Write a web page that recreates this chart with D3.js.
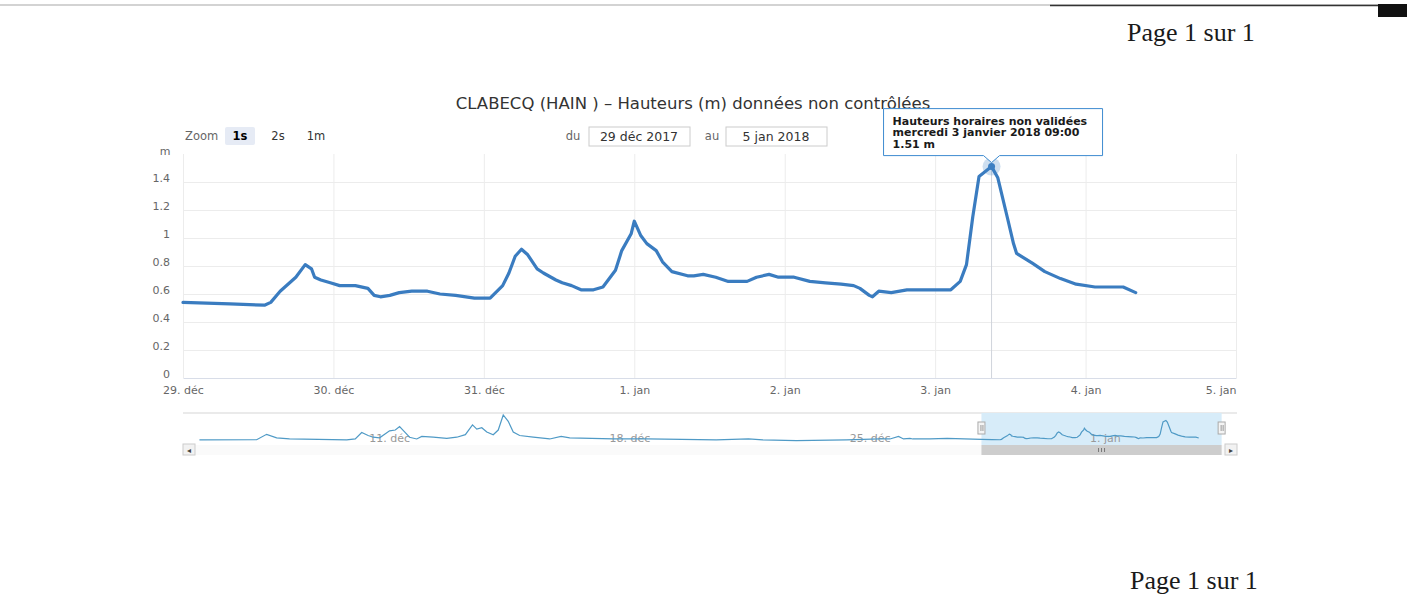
<!DOCTYPE html>
<html>
<head>
<meta charset="utf-8">
<script src="https://cdn.jsdelivr.net/npm/d3@7"></script>
<style>
  body { margin: 0; background: #fff; }
  svg text { font-family: "DejaVu Sans", Verdana, sans-serif; }
</style>
</head>
<body>
<svg id="chart" width="1407" height="596"></svg>
<script>
// heights (m), 29 déc -> 4 jan
const mainTimes = [
  "2017-12-29 00:00", "2017-12-29 07:30", "2017-12-29 13:00", "2017-12-29 14:00", "2017-12-29 15:30",
  "2017-12-29 18:00", "2017-12-29 19:30", "2017-12-29 20:30", "2017-12-29 21:00", "2017-12-29 22:00",
  "2017-12-29 23:30", "2017-12-30 01:00", "2017-12-30 03:30", "2017-12-30 05:30", "2017-12-30 06:30",
  "2017-12-30 07:30", "2017-12-30 09:00", "2017-12-30 10:30", "2017-12-30 12:30", "2017-12-30 15:00",
  "2017-12-30 17:00", "2017-12-30 19:30", "2017-12-30 22:30", "2017-12-31 01:00", "2017-12-31 03:00",
  "2017-12-31 04:00", "2017-12-31 05:00", "2017-12-31 06:00", "2017-12-31 07:00", "2017-12-31 08:30",
  "2017-12-31 09:30", "2017-12-31 11:30", "2017-12-31 12:30", "2017-12-31 14:00", "2017-12-31 15:30",
  "2017-12-31 17:30", "2017-12-31 19:00", "2017-12-31 21:00", "2017-12-31 22:00", "2017-12-31 23:30",
  "2018-01-01 00:00", "2018-01-01 01:00", "2018-01-01 02:00", "2018-01-01 03:30", "2018-01-01 04:30",
  "2018-01-01 06:00", "2018-01-01 08:30", "2018-01-01 09:30", "2018-01-01 11:00", "2018-01-01 13:00",
  "2018-01-01 15:00", "2018-01-01 18:00", "2018-01-01 19:30", "2018-01-01 21:30", "2018-01-01 23:00",
  "2018-01-02 01:30", "2018-01-02 04:00", "2018-01-02 06:30", "2018-01-02 09:00", "2018-01-02 11:00",
  "2018-01-02 12:00", "2018-01-02 13:30", "2018-01-02 14:00", "2018-01-02 15:00", "2018-01-02 17:00",
  "2018-01-02 19:30", "2018-01-02 23:00", "2018-01-03 02:30", "2018-01-03 04:00", "2018-01-03 05:00",
  "2018-01-03 06:00", "2018-01-03 07:00", "2018-01-03 09:00", "2018-01-03 10:00", "2018-01-03 11:30",
  "2018-01-03 12:30", "2018-01-03 13:00", "2018-01-03 15:30", "2018-01-03 17:30", "2018-01-03 20:00",
  "2018-01-03 22:30", "2018-01-04 01:30", "2018-01-04 04:00", "2018-01-04 06:00", "2018-01-04 08:00"
];
const mainHeights = [
  0.54, 0.53, 0.52, 0.54, 0.62,
  0.72, 0.81, 0.78, 0.72, 0.70,
  0.68, 0.66, 0.66, 0.64, 0.59,
  0.58, 0.59, 0.61, 0.62, 0.62,
  0.60, 0.59, 0.57, 0.57, 0.66,
  0.75, 0.87, 0.92, 0.88, 0.78,
  0.75, 0.70, 0.68, 0.66, 0.63,
  0.63, 0.65, 0.77, 0.91, 1.03,
  1.12, 1.02, 0.96, 0.91, 0.83,
  0.76, 0.73, 0.73, 0.74, 0.72,
  0.69, 0.69, 0.72, 0.74, 0.72,
  0.72, 0.69, 0.68, 0.67, 0.66,
  0.64, 0.59, 0.58, 0.62, 0.61,
  0.63, 0.63, 0.63, 0.69, 0.81,
  1.15, 1.44, 1.51, 1.43, 1.15,
  0.96, 0.89, 0.82, 0.76, 0.71,
  0.67, 0.65, 0.65, 0.65, 0.61
];
// older heights, only visible in the navigator strip
const historyTimes = [
  "2017-12-06 05:00", "2017-12-07 21:00", "2017-12-08 04:00", "2017-12-08 11:00", "2017-12-08 20:00",
  "2017-12-10 12:00", "2017-12-10 18:00", "2017-12-10 22:30", "2017-12-11 03:00", "2017-12-11 06:30",
  "2017-12-11 11:00", "2017-12-11 18:00", "2017-12-11 22:00", "2017-12-12 01:00", "2017-12-12 04:00",
  "2017-12-12 08:00", "2017-12-12 13:00", "2017-12-12 16:30", "2017-12-13 00:30", "2017-12-13 10:00",
  "2017-12-13 17:00", "2017-12-13 23:00", "2017-12-14 04:00", "2017-12-14 07:00", "2017-12-14 10:30",
  "2017-12-14 14:00", "2017-12-14 18:30", "2017-12-14 22:00", "2017-12-15 01:30", "2017-12-15 05:00",
  "2017-12-15 08:30", "2017-12-15 13:00", "2017-12-15 22:30", "2017-12-16 10:00", "2017-12-16 18:00",
  "2017-12-17 00:00", "2017-12-18 06:30", "2017-12-19 06:00", "2017-12-21 06:30", "2017-12-22 05:00",
  "2017-12-22 15:00", "2017-12-23 14:30", "2017-12-25 01:30", "2017-12-26 01:00", "2017-12-26 08:00",
  "2017-12-26 14:00", "2017-12-26 17:30", "2017-12-26 22:00", "2017-12-27 00:00", "2017-12-27 12:00",
  "2017-12-28 00:00", "2017-12-28 12:00"
];
const historyHeights = [
  0.51, 0.52, 0.80, 0.62, 0.56,
  0.51, 0.56, 0.89, 0.74, 0.65,
  0.62, 0.98, 1.02, 1.20, 0.96,
  0.65, 0.56, 0.69, 0.65, 0.59,
  0.65, 0.78, 1.29, 1.07, 1.14,
  0.92, 0.78, 1.02, 1.80, 1.47,
  0.92, 0.74, 0.65, 0.56, 0.69,
  0.62, 0.56, 0.56, 0.51, 0.56,
  0.51, 0.47, 0.51, 0.56, 0.56,
  0.69, 0.56, 0.59, 0.56, 0.56,
  0.59, 0.56
];

const yTicks = [0, 0.2, 0.4, 0.6, 0.8, 1, 1.2, 1.4];
const zoomButtons = ["1s", "2s", "1m"];
const dayNames = ["dimanche", "lundi", "mardi", "mercredi", "jeudi", "vendredi", "samedi"];
const monthNames = ["janvier", "février", "mars", "avril", "mai", "juin", "juillet", "août",
  "septembre", "octobre", "novembre", "décembre"];
const monthShort = ["jan", "fév", "mar", "avr", "mai", "juin", "juil", "aoû", "sep", "oct", "nov", "déc"];

const titleText = "CLABECQ (HAIN ) – Hauteurs (m) données non contrôlées";
const tooltipTitle = "Hauteurs horaires non validées";

const parse = d3.timeParse("%Y-%m-%d %H:%M");
const fr = d3.timeFormatLocale({
  dateTime: "%A %e %B %Y à %X", date: "%d/%m/%Y", time: "%H:%M:%S",
  periods: ["AM", "PM"], days: dayNames,
  shortDays: dayNames.map(d => d.slice(0, 3)),
  months: monthNames, shortMonths: monthShort
});

let mainData = mainTimes.map((t, i) => ({ t: parse(t), v: mainHeights[i] }));
let navData = historyTimes.map((t, i) => ({ t: parse(t), v: historyHeights[i] })).concat(mainData);

let svg = d3.select("#chart");
const plotLeft = 183, plotRight = 1236, plotTop = 154, plotBottom = 378;
const grey = "#666666";

// scanned page decorations
svg.append("line").attr("x1", 0).attr("x2", 1380).attr("y1", 5).attr("y2", 5)
  .attr("stroke", "#c4c4c4").attr("stroke-width", 1.5);
svg.append("line").attr("x1", 1050).attr("x2", 1380).attr("y1", 5.5).attr("y2", 5.5)
  .attr("stroke", "#333").attr("stroke-width", 1.5);
svg.append("rect").attr("x", 1378).attr("y", 4).attr("width", 29).attr("height", 13).attr("fill", "#111");
svg.append("text").text("Page 1 sur 1").attr("x", 1127).attr("y", 41)
  .style("font-family", "'Liberation Serif', serif").style("font-size", "26px").attr("fill", "#1a1a1a");
svg.append("text").text("Page 1 sur 1").attr("x", 1130).attr("y", 589)
  .style("font-family", "'Liberation Serif', serif").style("font-size", "26px").attr("fill", "#1a1a1a");

// title
svg.append("text").text(titleText).attr("x", 693).attr("y", 109)
  .attr("text-anchor", "middle").style("font-size", "16.5px").attr("fill", "#333");

// range selector: zoom buttons
svg.append("text").text("Zoom").attr("x", 185).attr("y", 140).style("font-size", "11.5px").attr("fill", grey);
let btn = svg.selectAll(".btn").data(zoomButtons).enter().append("g")
  .attr("class", "btn")
  .attr("transform", (d, i) => `translate(${240 + i * 38},136)`);
btn.append("rect").attr("x", -15).attr("y", -9).attr("width", 30).attr("height", 18).attr("rx", 2)
  .attr("fill", (d, i) => (i === 0 ? "#e6ebf5" : "none"));
btn.append("text").text(d => d).attr("text-anchor", "middle").attr("dy", "0.35em")
  .style("font-size", "11.5px").style("font-weight", (d, i) => (i === 0 ? "bold" : "normal"))
  .attr("fill", (d, i) => (i === 0 ? "#000" : "#333"));

// range selector: date inputs
let boxFmt = fr.format("%-d %b %Y");
let xStart = parse("2017-12-29 00:00"), xEnd = parse("2018-01-05 00:00");
[["du", 573, 589, xStart], ["au", 712, 726, xEnd]].forEach(([lab, lx, bx, dt]) => {
  svg.append("text").text(lab).attr("x", lx).attr("y", 140).attr("text-anchor", "middle")
    .style("font-size", "11.5px").attr("fill", grey);
  svg.append("rect").attr("x", bx).attr("y", 127).attr("width", 101).attr("height", 19)
    .attr("fill", "#fff").attr("stroke", "#ccc");
  svg.append("text").text(boxFmt(dt)).attr("x", bx + 50).attr("y", 141).attr("text-anchor", "middle")
    .style("font-size", "12.5px").attr("fill", "#333");
});

// scales for the main plot
let x = d3.scaleTime().domain([xStart, xEnd]).range([plotLeft, plotRight]);
let y = d3.scaleLinear().domain([0, 1.6]).range([plotBottom, plotTop]);
let days = d3.timeDay.range(xStart, d3.timeDay.offset(xEnd, 1));

// grid
svg.append("g").attr("transform", `translate(0,${plotBottom})`)
  .call(d3.axisBottom(x).tickValues(days).tickSize(-(plotBottom - plotTop)).tickFormat(""))
  .call(g => g.select(".domain").remove())
  .call(g => g.selectAll("line").attr("stroke", "#ececec"));
svg.append("g").attr("transform", `translate(${plotLeft},0)`)
  .call(d3.axisLeft(y).tickValues(yTicks.slice(1)).tickSize(-(plotRight - plotLeft)).tickFormat(""))
  .call(g => g.select(".domain").remove())
  .call(g => g.selectAll("line").attr("stroke", "#ececec"));

// x axis
let dayFmt = fr.format("%-d. %b");
svg.append("g").attr("transform", `translate(0,${plotBottom})`)
  .call(d3.axisBottom(x).tickValues(days).tickSize(0).tickPadding(8).tickFormat(dayFmt))
  .call(g => g.select(".domain").attr("stroke", "#d8dde8"))
  .call(g => g.selectAll("text").style("font-size", "11px").attr("fill", grey).style("font-family", "'DejaVu Sans', sans-serif"))
  .call(g => g.selectAll(".tick:last-of-type text").attr("text-anchor", "end"));

// y axis
svg.append("g").attr("transform", `translate(${plotLeft},0)`)
  .call(d3.axisLeft(y).tickValues(yTicks).tickSize(0).tickPadding(13).tickFormat(d3.format("~g")))
  .call(g => g.select(".domain").remove())
  .call(g => g.selectAll("text").attr("y", -4).style("font-size", "11px").attr("fill", grey)
    .style("font-family", "'DejaVu Sans', sans-serif"));
svg.append("text").text("m").attr("x", 165).attr("y", 155).attr("text-anchor", "middle")
  .style("font-size", "11px").attr("fill", grey);

// crosshair at the hovered point
let peak = mainData[d3.maxIndex(mainData, d => d.v)];
let px = x(peak.t), py = y(peak.v);
svg.append("line").attr("x1", px).attr("x2", px).attr("y1", plotTop + 10).attr("y2", plotBottom)
  .attr("stroke", "#d0d4dc").attr("stroke-width", 1);

// main series
let line = d3.line().x(d => x(d.t)).y(d => y(d.v));
svg.append("path").datum(mainData).attr("d", line)
  .attr("fill", "none").attr("stroke", "#3a7cc0").attr("stroke-width", 3.2)
  .attr("stroke-linejoin", "round").attr("stroke-linecap", "round");

// hover halo + marker
svg.append("circle").attr("cx", px).attr("cy", py).attr("r", 9).attr("fill", "#3d7fc2").attr("opacity", 0.25);
svg.append("circle").attr("cx", px).attr("cy", py).attr("r", 3.5).attr("fill", "#3d7fc2");

// tooltip
let tipW = 219, tipH = 47;
let tipX = px - 108, tipY = py - 11 - tipH;
svg.append("path")
  .attr("d", `M${tipX},${tipY} h${tipW} v${tipH} H${px + 8} L${px},${tipY + tipH + 7} L${px - 8},${tipY + tipH} H${tipX} Z`)
  .attr("fill", "#fff").attr("stroke", "#3d8bd0").attr("stroke-width", 1);
let tipFmt = fr.format("%A %-d %B %Y %H:%M");
let tipLines = [tooltipTitle, tipFmt(peak.t), d3.format(".2f")(peak.v) + " m"];
svg.selectAll(".tip").data(tipLines).enter().append("text")
  .attr("x", tipX + 9).attr("y", (d, i) => tipY + 16 + i * 11.5)
  .style("font-size", "11px").style("font-weight", "bold")
  .attr("fill", "#1a1a1a").text(d => d);

// navigator
const navLeft = 183, navRight = 1237, navTop = 413, navBottom = 444;
let navX = d3.scaleTime()
  .domain([parse("2017-12-05 17:30"), parse("2018-01-05 10:45")])
  .range([navLeft, navRight]);
let navY = d3.scaleLinear().domain([0.3, 1.9]).range([navBottom, navTop]);

svg.append("line").attr("x1", navLeft).attr("x2", navRight).attr("y1", navTop).attr("y2", navTop)
  .attr("stroke", "#d5d5d5");

// selected window
let selA = navX(xStart), selB = navX(xEnd);
svg.append("rect").attr("x", selA).attr("y", navTop).attr("width", selB - selA).attr("height", navBottom - navTop + 1)
  .attr("fill", "#d7ecf9");

// navigator labels (weekly)
let mondays = d3.timeMonday.range(navX.domain()[0], navX.domain()[1]);
svg.append("g").attr("transform", `translate(0,${navBottom - 2})`)
  .call(d3.axisBottom(navX).tickValues(mondays).tickSize(0).tickPadding(0).tickFormat(dayFmt))
  .call(g => g.select(".domain").remove())
  .call(g => g.selectAll("text").attr("text-anchor", "start").attr("x", 5).attr("dy", "0")
    .style("font-size", "11px").attr("fill", "#999").style("font-family", "'DejaVu Sans', sans-serif"));

let navLine = d3.line().x(d => navX(d.t)).y(d => navY(d.v));
svg.append("path").datum(navData).attr("d", navLine)
  .attr("fill", "none").attr("stroke", "#4f9ac6").attr("stroke-width", 1.2);

// handles
[selA, selB].forEach(hx => {
  svg.append("rect").attr("x", hx - 3.5).attr("y", 422).attr("width", 7).attr("height", 12)
    .attr("fill", "#f4f4f4").attr("stroke", "#aaa");
  svg.append("line").attr("x1", hx - 0.5).attr("x2", hx - 0.5).attr("y1", 425).attr("y2", 431).attr("stroke", "#999");
  svg.append("line").attr("x1", hx + 1.5).attr("x2", hx + 1.5).attr("y1", 425).attr("y2", 431).attr("stroke", "#999");
});

// scrollbar
const sbTop = 445, sbH = 10;
svg.append("rect").attr("x", navLeft).attr("y", sbTop).attr("width", navRight - navLeft).attr("height", sbH)
  .attr("fill", "#fafafa");
svg.append("rect").attr("x", selA).attr("y", sbTop).attr("width", selB - selA).attr("height", sbH)
  .attr("fill", "#cdcdcd");
[0, 3, 6].forEach(o => {
  svg.append("line").attr("x1", (selA + selB) / 2 - 3 + o).attr("x2", (selA + selB) / 2 - 3 + o)
    .attr("y1", sbTop + 3).attr("y2", sbTop + 7).attr("stroke", "#777");
});
[[navLeft, "◂"], [navRight - 12, "▸"]].forEach(([bx, ch]) => {
  svg.append("rect").attr("x", bx).attr("y", sbTop - 1).attr("width", 12).attr("height", sbH + 1)
    .attr("fill", "#f2f2f2").attr("stroke", "#ccc");
  svg.append("text").text(ch).attr("x", bx + 6).attr("y", sbTop + 8).attr("text-anchor", "middle")
    .style("font-size", "8px").attr("fill", "#444");
});
</script>
</body>
</html>
